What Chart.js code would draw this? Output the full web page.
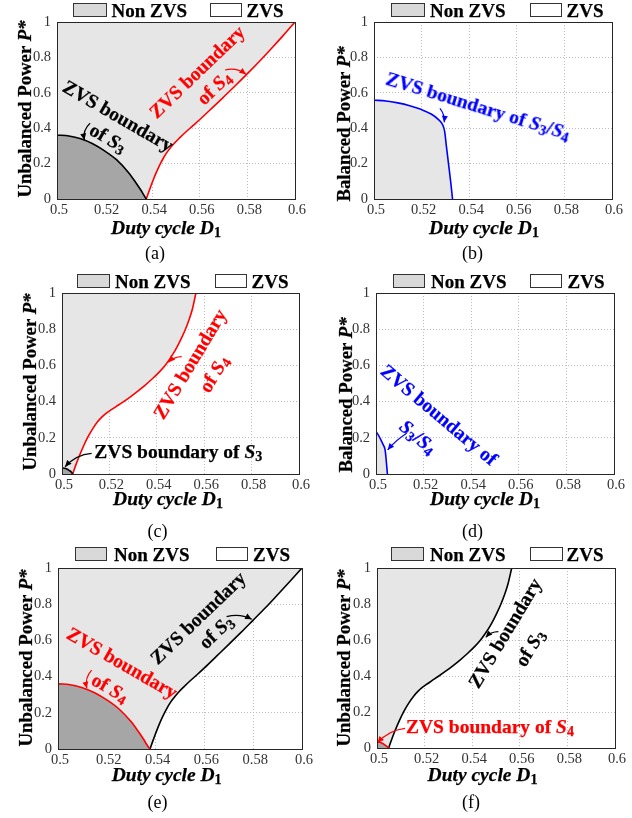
<!DOCTYPE html>
<html>
<head>
<meta charset="utf-8">
<title>ZVS boundaries</title>
<script src="https://cdn.jsdelivr.net/npm/chart.js@4/dist/chart.umd.min.js"></script>
<style>
html,body{margin:0;padding:0;background:#fff;}
#page{position:relative;width:632px;height:818px;overflow:hidden;background:#fff;font-family:"Liberation Serif","Times New Roman",serif;color:#000;}
#page canvas{position:absolute;}
.t{position:absolute;white-space:nowrap;line-height:1;font-weight:bold;-webkit-text-stroke:0.25px currentColor;}
.t i{font-style:italic;}
.t sub{font-size:0.72em;vertical-align:-0.22em;font-style:normal;line-height:0;}
.lg{position:absolute;box-sizing:border-box;border:1px solid #333;height:14px;}
</style>
</head>
<body>
<div id="page"></div>
<script>
// ---------------- data ----------------
const xTicks = [0.5, 0.52, 0.54, 0.56, 0.58, 0.6];
const xTickLabels = ['0.5', '0.52', '0.54', '0.56', '0.58', '0.6'];
const yTicks = [0, 0.2, 0.4, 0.6, 0.8, 1];
const yTickLabels = ['0', '0.2', '0.4', '0.6', '0.8', '1'];

// (a) unbalanced: S3 boundary (black) and S4 boundary (red)
const aS3D1 = [0.5, 0.505, 0.51, 0.515, 0.52, 0.525, 0.53, 0.533, 0.535, 0.5365, 0.5375];
const aS3P  = [0.362, 0.356, 0.340, 0.312, 0.272, 0.222, 0.150, 0.095, 0.055, 0.022, 0];
const aS4D1 = [0.5375, 0.5385, 0.5395, 0.5405, 0.5415, 0.5425, 0.5435, 0.5445, 0.5455, 0.5465, 0.5478, 0.5495, 0.5515, 0.554, 0.557, 0.56, 0.565, 0.57, 0.575, 0.58, 0.585, 0.59, 0.595, 0.6];
const aS4P  = [0, 0.038, 0.075, 0.11, 0.143, 0.173, 0.201, 0.226, 0.249, 0.269, 0.292, 0.318, 0.345, 0.377, 0.413, 0.449, 0.512, 0.576, 0.641, 0.708, 0.777, 0.849, 0.923, 1.0];

// (b) balanced: S3/S4 boundary (blue)
const bS34D1 = [0.5, 0.505, 0.51, 0.515, 0.52, 0.524, 0.527, 0.529, 0.5297, 0.5304, 0.5313, 0.5322, 0.533];
const bS34P  = [0.558, 0.554, 0.543, 0.527, 0.505, 0.48, 0.45, 0.415, 0.38, 0.3, 0.2, 0.1, 0];

// (c) unbalanced: S4 boundary (red), S3 boundary (black)
const cS4D1 = [0.5045, 0.5055, 0.507, 0.509, 0.511, 0.513, 0.515, 0.517, 0.519, 0.521, 0.523, 0.526, 0.529, 0.532, 0.535, 0.538, 0.541, 0.5435, 0.5455, 0.5475, 0.549, 0.5505, 0.552, 0.5535, 0.555, 0.5565];
const cS4P  = [0, 0.038, 0.09, 0.152, 0.206, 0.251, 0.288, 0.317, 0.339, 0.357, 0.374, 0.4, 0.428, 0.458, 0.49, 0.525, 0.563, 0.6, 0.636, 0.677, 0.713, 0.753, 0.797, 0.848, 0.91, 1.0];
const cS3D1 = [0.5, 0.501, 0.502, 0.503, 0.504, 0.5045];
const cS3P  = [0.033, 0.032, 0.028, 0.02, 0.01, 0];

// (d) balanced: S3/S4 boundary (blue)
const dS34D1 = [0.5, 0.501, 0.502, 0.503, 0.5038, 0.5042, 0.5045, 0.5048];
const dS34P  = [0.235, 0.215, 0.19, 0.162, 0.135, 0.09, 0.045, 0];

// (e) unbalanced: S4 boundary (red), S3 boundary (black)
const eS4D1 = [0.5, 0.505, 0.51, 0.515, 0.52, 0.525, 0.53, 0.533, 0.535, 0.5365, 0.5377];
const eS4P  = [0.36, 0.355, 0.339, 0.311, 0.271, 0.221, 0.15, 0.095, 0.055, 0.022, 0];
const eS3D1 = [0.5377, 0.5387, 0.5397, 0.5407, 0.5417, 0.5427, 0.5437, 0.5447, 0.5457, 0.5467, 0.548, 0.5497, 0.5517, 0.5542, 0.5572, 0.56, 0.565, 0.57, 0.575, 0.58, 0.585, 0.59, 0.595, 0.6];
const eS3P  = [0, 0.038, 0.075, 0.11, 0.143, 0.173, 0.201, 0.226, 0.249, 0.269, 0.292, 0.318, 0.345, 0.377, 0.413, 0.448, 0.513, 0.578, 0.644, 0.712, 0.78, 0.852, 0.925, 1.0];

// (f) unbalanced: S3 boundary (black), S4 boundary (red)
const fS3D1 = [0.5049, 0.5059, 0.5074, 0.5094, 0.5114, 0.5134, 0.5154, 0.5174, 0.5193, 0.5212, 0.5231, 0.526, 0.529, 0.532, 0.535, 0.538, 0.541, 0.5435, 0.5455, 0.5475, 0.549, 0.5505, 0.552, 0.5535, 0.555, 0.5566];
const fS3P  = [0, 0.038, 0.09, 0.152, 0.206, 0.251, 0.288, 0.317, 0.339, 0.357, 0.374, 0.4, 0.428, 0.458, 0.49, 0.525, 0.563, 0.6, 0.636, 0.677, 0.713, 0.753, 0.797, 0.848, 0.91, 1.0];
const fS4D1 = [0.5, 0.501, 0.502, 0.503, 0.504, 0.5049];
const fS4P  = [0.033, 0.032, 0.028, 0.02, 0.01, 0];

// annotation arrows (data coordinates: tail -> tip)
const aArrows = [{from:[0.5139,0.428], to:[0.5115,0.333], bend:5, color:'#000'},
                 {from:[0.5706,0.729], to:[0.5794,0.705], bend:-5, color:'#ff0000'}];
const bArrows = [{from:[0.5277,0.512], to:[0.5295,0.433], bend:-3, color:'#0000ff'}];
const cArrows = [{from:[0.5505,0.648], to:[0.5449,0.617], bend:3, color:'#ff0000'},
                 {from:[0.5125,0.114], to:[0.5013,0.040], bend:6, color:'#000'}];
const dArrows = [{from:[0.5129,0.225], to:[0.5049,0.133], bend:2, color:'#0000ff'}];
const eArrows = [{from:[0.5138,0.436], to:[0.5118,0.335], bend:5, color:'#ff0000'},
                 {from:[0.5691,0.731], to:[0.5794,0.717], bend:-5, color:'#000'}];
const fArrows = [{from:[0.551,0.646], to:[0.5457,0.615], bend:3, color:'#000'},
                 {from:[0.5118,0.109], to:[0.5002,0.029], bend:6, color:'#ff0000'}];

// ---------------- styles / layout ----------------
const FONT = '"Liberation Serif","Times New Roman",serif';
const LIGHT = '#e6e6e6', DARK = '#a6a6a6', RED = '#ff0000', BLUE = '#0000ff', BLACK = '#000000';
const YW = 32, XH = 22;
const page = document.getElementById('page');
Chart.defaults.font.family = FONT;

function pts(xs, ys) { return xs.map((x, i) => ({x: x, y: ys[i]})); }
function curve(xs, ys, color, fill, bg, order) {
  return {data: pts(xs, ys), showLine: true, borderColor: color, borderWidth: 1.6, fill: fill,
          backgroundColor: bg || 'rgba(0,0,0,0)', order: order, pointRadius: 0, cubicInterpolationMode: 'monotone'};
}
function strip(x0, x1, bg, order) {
  return {data: [{x: x0, y: 0}, {x: x1, y: 0}], showLine: true, borderColor: 'rgba(0,0,0,0)', borderWidth: 0,
          fill: 'end', backgroundColor: bg, order: order, pointRadius: 0};
}

function drawArrow(ctx, xs, ys, ar) {
  const x0 = xs.getPixelForValue(ar.from[0]), y0 = ys.getPixelForValue(ar.from[1]);
  const x1 = xs.getPixelForValue(ar.to[0]), y1 = ys.getPixelForValue(ar.to[1]);
  const dx = x1 - x0, dy = y1 - y0, len = Math.hypot(dx, dy) || 1;
  const nx = -dy / len, ny = dx / len;
  const cx = (x0 + x1) / 2 + nx * ar.bend, cy = (y0 + y1) / 2 + ny * ar.bend;
  ctx.save();
  ctx.strokeStyle = ar.color; ctx.fillStyle = ar.color; ctx.lineWidth = 1.2;
  ctx.beginPath(); ctx.moveTo(x0, y0); ctx.quadraticCurveTo(cx, cy, x1, y1); ctx.stroke();
  const ang = Math.atan2(y1 - cy, x1 - cx), h = 6.5, w = 3;
  ctx.beginPath(); ctx.moveTo(x1, y1);
  ctx.lineTo(x1 - h * Math.cos(ang) + w * Math.sin(ang), y1 - h * Math.sin(ang) - w * Math.cos(ang));
  ctx.lineTo(x1 - h * Math.cos(ang) - w * Math.sin(ang), y1 - h * Math.sin(ang) + w * Math.cos(ang));
  ctx.closePath(); ctx.fill();
  ctx.restore();
}

function axis(ticksArr, labels, isX) {
  return {
    type: 'linear', min: isX ? 0.5 : 0, max: isX ? 0.6 : 1,
    afterFit(s) { if (isX) s.height = XH; else s.width = YW; },
    afterBuildTicks(s) { s.ticks = ticksArr.map(v => ({value: v})); },
    ticks: {callback: (v, i) => labels[i], font: {family: FONT, size: 14.5}, color: '#333',
            padding: isX ? 2 : 6, maxRotation: 0, autoSkip: false, labelOffset: isX ? 2 : 0},
    grid: {color: '#bdbdbd', lineWidth: 1, drawTicks: false},
    border: {display: false, dash: [1, 2]}
  };
}

function makeChart(p) {
  const [cx, cy, cw, chh] = p.cell;
  const cv = document.createElement('canvas');
  cv.width = cw; cv.height = chh;
  cv.style.left = cx + 'px'; cv.style.top = cy + 'px';
  cv.style.width = cw + 'px'; cv.style.height = chh + 'px';
  page.appendChild(cv);
  const frame = {
    id: 'frame' + p.id,
    afterDatasetsDraw(chart) {
      const {ctx, chartArea: a, scales} = chart;
      p.arrows.forEach(ar => drawArrow(ctx, scales.x, scales.y, ar));
      ctx.save(); ctx.strokeStyle = '#262626'; ctx.lineWidth = 1;
      ctx.strokeRect(a.left + 0.5, a.top + 0.5, a.right - a.left, a.bottom - a.top);
      ctx.restore();
    }
  };
  new Chart(cv.getContext('2d'), {
    type: 'scatter',
    data: {datasets: p.datasets},
    options: {
      responsive: false, animation: false, devicePixelRatio: 1,
      layout: {padding: {left: p.plot.L - cx - YW, top: p.plot.T - cy,
                         right: cx + cw - p.plot.R, bottom: cy + chh - p.plot.B - XH}},
      plugins: {legend: {display: false}, tooltip: {enabled: false}},
      scales: {x: axis(xTicks, xTickLabels, true), y: axis(yTicks, yTickLabels, false)}
    },
    plugins: [frame]
  });
}

const SEAM = 0.0004;
const panels = [
  {id: 'a', cell: [0, 0, 316, 270], plot: {L: 57, R: 295, T: 22, B: 199}, arrows: aArrows,
   datasets: [strip(0.5, aS4D1[0] + SEAM, LIGHT, 4), curve(aS4D1, aS4P, RED, 'end', LIGHT, 3), curve(aS3D1, aS3P, BLACK, 'origin', DARK, 2)]},
  {id: 'b', cell: [316, 0, 316, 270], plot: {L: 374, R: 612, T: 22, B: 199}, arrows: bArrows,
   datasets: [curve(bS34D1, bS34P, BLUE, 'origin', LIGHT, 2)]},
  {id: 'c', cell: [0, 270, 316, 270], plot: {L: 62, R: 299, T: 293, B: 474}, arrows: cArrows,
   datasets: [strip(0.5, cS4D1[0] + SEAM, LIGHT, 4), curve(cS4D1, cS4P, RED, 'end', LIGHT, 3), curve(cS3D1, cS3P, BLACK, 'origin', DARK, 2)]},
  {id: 'd', cell: [316, 270, 316, 270], plot: {L: 376, R: 614, T: 293, B: 474}, arrows: dArrows,
   datasets: [curve(dS34D1, dS34P, BLUE, 'origin', LIGHT, 2)]},
  {id: 'e', cell: [0, 540, 316, 278], plot: {L: 58, R: 302, T: 568, B: 749}, arrows: eArrows,
   datasets: [strip(0.5, eS3D1[0] + SEAM, LIGHT, 4), curve(eS3D1, eS3P, BLACK, 'end', LIGHT, 3), curve(eS4D1, eS4P, RED, 'origin', DARK, 2)]},
  {id: 'f', cell: [316, 540, 316, 278], plot: {L: 377, R: 615, T: 568, B: 748}, arrows: fArrows,
   datasets: [strip(0.5, fS3D1[0] + SEAM, LIGHT, 4), curve(fS3D1, fS3P, BLACK, 'end', LIGHT, 3), curve(fS4D1, fS4P, RED, 'origin', DARK, 2)]}
];
panels.forEach(makeChart);

// ---------------- text ----------------
function addText(html, o) {
  const d = document.createElement('div');
  d.className = 't'; d.innerHTML = html;
  d.style.fontSize = o.size + 'px'; d.style.color = o.color || '#000';
  if (o.weight) { d.style.fontWeight = o.weight; d.style.webkitTextStroke = '0px'; }
  if (o.base !== undefined) {
    d.style.top = (o.base - 0.8375 * o.size) + 'px';
    if (o.cx !== undefined) { d.style.left = o.cx + 'px'; d.style.transform = 'translateX(-50%)'; }
    else d.style.left = o.x + 'px';
  } else {
    d.style.left = o.cx + 'px'; d.style.top = o.cy + 'px';
    d.style.transform = 'translate(-50%,-50%) rotate(' + (o.rot || 0) + 'deg)';
  }
  page.appendChild(d);
}
function addBox(x, top, w, bg) {
  const b = document.createElement('div');
  b.className = 'lg';
  b.style.left = x + 'px'; b.style.top = top + 'px'; b.style.width = w + 'px'; b.style.background = bg;
  page.appendChild(b);
}

const legends = [
  {base: 17, b1: [73, 34], t1: 111.5, b2: [210, 32], t2: 246.5},
  {base: 17, b1: [391, 34], t1: 430, b2: [529.5, 32], t2: 566.5},
  {base: 287.5, b1: [77, 33], t1: 115, b2: [214.5, 32], t2: 251.5},
  {base: 287.5, b1: [393, 32], t1: 431, b2: [530, 32], t2: 567.5},
  {base: 561, b1: [75, 32], t1: 114, b2: [216, 32], t2: 253},
  {base: 560.5, b1: [391, 33], t1: 430, b2: [529.5, 33], t2: 566.5}
];
legends.forEach(l => {
  addBox(l.b1[0], l.base - 14, l.b1[1], '#d9d9d9');
  addText('Non ZVS', {x: l.t1, base: l.base, size: 19});
  addBox(l.b2[0], l.base - 14, l.b2[1], '#ffffff');
  addText('ZVS', {x: l.t2, base: l.base, size: 19});
});

const yTitles = [
  ['Unbalanced Power <i>P*</i>', 24.5, 108.5], ['Balanced Power <i>P*</i>', 344, 123.5],
  ['Unbalanced Power <i>P*</i>', 30, 381.7], ['Balanced Power <i>P*</i>', 345.5, 395],
  ['Unbalanced Power <i>P*</i>', 25.8, 658], ['Unbalanced Power <i>P*</i>', 344, 658]
];
yTitles.forEach(t => addText(t[0], {cx: t[1], cy: t[2], rot: -90, size: 18.8}));

const xTitles = [[166, 234.5], [484, 234.5], [168, 505], [485, 505], [166.7, 781.7], [482.5, 781.7]];
xTitles.forEach(t => addText('<i>Duty cycle D</i><sub>1</sub>', {cx: t[0], base: t[1], size: 19.5}));

const captions = [['(a)', 155, 259], ['(b)', 472.5, 259], ['(c)', 157.5, 537.5], ['(d)', 472.5, 537.5], ['(e)', 157.5, 808], ['(f)', 471, 808]];
captions.forEach(c => addText(c[0], {cx: c[1], base: c[2], size: 18, weight: 'normal'}));

const notes = [
  ['ZVS boundary', 118.3, 115.8, 30, BLACK],
  ['of <i>S</i><sub>3</sub>', 108, 138, 30, BLACK],
  ['ZVS boundary', 196.5, 71.5, -44, RED],
  ['of <i>S</i><sub>4</sub>', 214, 87.5, -44, RED],
  ['ZVS boundary of <i>S</i><sub>3</sub>/<i>S</i><sub>4</sub>', 478.3, 105.8, 17, BLUE],
  ['ZVS boundary', 190, 364.2, -59, RED],
  ['of <i>S</i><sub>4</sub>', 214.2, 374.2, -59, RED],
  ['ZVS boundary of <i>S</i><sub>3</sub>', 178.3, 452, 0, BLACK],
  ['ZVS boundary of', 439, 415, 40, BLUE],
  ['<i>S</i><sub>3</sub>/<i>S</i><sub>4</sub>', 418.3, 436.7, 40, BLUE],
  ['ZVS boundary', 121.7, 662.5, 30, RED],
  ['of <i>S</i><sub>4</sub>', 110, 687.5, 30, RED],
  ['ZVS boundary', 197.5, 617.5, -44, BLACK],
  ['of <i>S</i><sub>3</sub>', 215.8, 631.7, -44, BLACK],
  ['ZVS boundary', 505, 633.3, -59, BLACK],
  ['of <i>S</i><sub>3</sub>', 530, 647.5, -59, BLACK],
  ['ZVS boundary of <i>S</i><sub>4</sub>', 490, 727, 0, RED]
];
notes.forEach(n => addText(n[0], {cx: n[1], cy: n[2], rot: n[3], color: n[4], size: 19.5}));
</script>
</body>
</html>
